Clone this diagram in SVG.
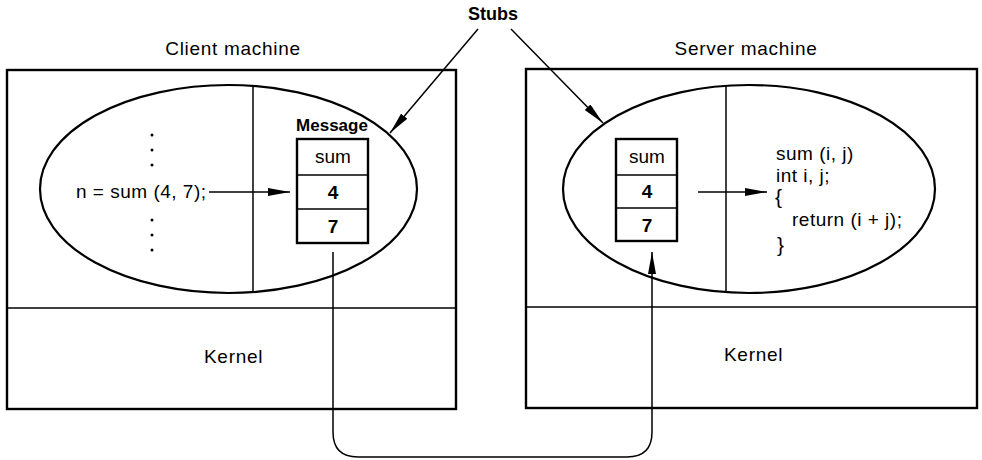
<svg xmlns="http://www.w3.org/2000/svg" width="982" height="460" viewBox="0 0 982 460">
<style>
  text { font-family: "Liberation Sans", "DejaVu Sans", sans-serif; font-size: 19px; fill: #000; }
  .bold { font-weight: bold; }
  .title { letter-spacing: 0.7px; }
  .code { letter-spacing: 0.5px; }
  .box { fill: none; stroke: #000; stroke-width: 2.4; }
  .thin { fill: none; stroke: #000; stroke-width: 1.5; }
  .ell { fill: none; stroke: #000; stroke-width: 2.2; }
  .conn { fill: none; stroke: #000; stroke-width: 1.5; }
  .mid { text-anchor: middle; }
</style>
<defs>
  <marker id="ah" markerUnits="userSpaceOnUse" markerWidth="24" markerHeight="10" refX="22" refY="4" orient="auto">
    <path d="M0,0 L22,4 L0,8 z" fill="#000"/>
  </marker>
</defs>
<rect width="982" height="460" fill="#fff"/>

<text id="stubs" class="bold mid" x="493" y="20" style="font-size:18px">Stubs</text>

<g id="client">
  <text class="mid title" x="233" y="55">Client machine</text>
  <rect class="box" x="7" y="70" width="449" height="339"/>
  <line class="thin" x1="7" y1="308" x2="456" y2="308"/>
  <ellipse class="ell" cx="228.5" cy="189" rx="188.5" ry="104"/>
  <line class="thin" x1="253" y1="85" x2="253" y2="293"/>
  <g id="client-dots" fill="#000">
    <circle cx="152" cy="135" r="1.5"/><circle cx="152" cy="150" r="1.5"/><circle cx="152" cy="165" r="1.5"/>
    <circle cx="152" cy="220" r="1.5"/><circle cx="152" cy="235" r="1.5"/><circle cx="152" cy="250" r="1.5"/>
  </g>
  <text class="code" x="76" y="198">n = sum (4, 7);</text>
  <text class="title" x="204" y="363">Kernel</text>
</g>

<g id="client-message">
  <text class="bold mid" x="332" y="131" style="font-size:17px">Message</text>
  <rect class="box" x="297" y="139" width="71" height="104"/>
  <line class="thin" x1="297" y1="175" x2="368" y2="175"/>
  <line class="thin" x1="297" y1="209" x2="368" y2="209"/>
  <text class="mid" x="333" y="163">sum</text>
  <text class="mid bold" x="333" y="199">4</text>
  <text class="mid bold" x="333" y="233">7</text>
</g>

<g id="server">
  <text class="mid title" x="746" y="55">Server machine</text>
  <rect class="box" x="526" y="69" width="451" height="339"/>
  <line class="thin" x1="526" y1="307" x2="977" y2="307"/>
  <ellipse class="ell" cx="749" cy="189" rx="186" ry="104"/>
  <line class="thin" x1="726" y1="85" x2="726" y2="293"/>
  <text class="code" x="776" y="160">sum (i, j)</text>
  <text class="code" x="776" y="182">int i, j;</text>
  <text x="775" y="204" style="font-size:21px">{</text>
  <text class="code" x="792" y="226">return (i + j);</text>
  <text x="777" y="252" style="font-size:21px">}</text>
  <text class="title" x="724" y="361">Kernel</text>
</g>

<g id="server-message">
  <rect class="box" x="616" y="139" width="61" height="102"/>
  <line class="thin" x1="616" y1="175" x2="677" y2="175"/>
  <line class="thin" x1="616" y1="208" x2="677" y2="208"/>
  <text class="mid" x="647" y="163">sum</text>
  <text class="mid bold" x="647" y="198">4</text>
  <text class="mid bold" x="647" y="232">7</text>
</g>

<g id="connectors">
  <line class="conn" x1="478" y1="29" x2="390" y2="133" marker-end="url(#ah)"/>
  <line class="conn" x1="511" y1="29" x2="603" y2="123" marker-end="url(#ah)"/>
  <line class="conn" x1="209" y1="192" x2="290" y2="192" marker-end="url(#ah)"/>
  <line class="conn" x1="698" y1="192" x2="767" y2="192" marker-end="url(#ah)"/>
  <path class="conn" d="M333,252 V432 Q333,457 358,457 H627 Q652,457 652,432 V252" marker-end="url(#ah)"/>
</g>
</svg>
